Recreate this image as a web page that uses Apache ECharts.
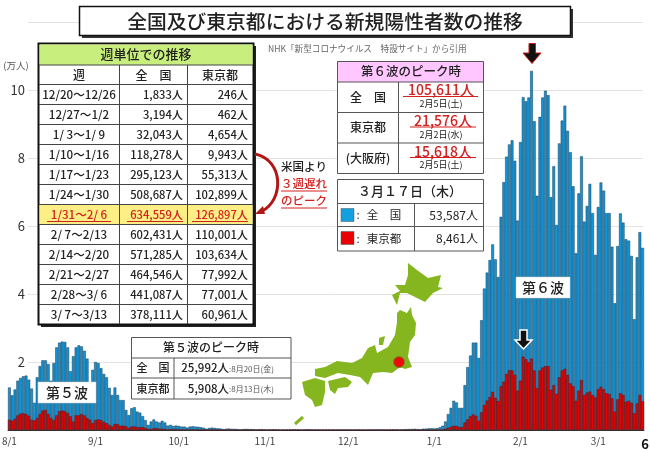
<!DOCTYPE html>
<html>
<head>
<meta charset="utf-8">
<script src="https://cdn.jsdelivr.net/npm/echarts@6/dist/echarts.min.js"></script>
<style>
    html, body { margin: 0; padding: 0; background: #fff; }
    #main, #overlay { position: absolute; left: 0; top: 0; width: 650px; height: 450px; }
    #overlay { pointer-events: none; }
</style>
</head>
<body>
<div id="main"></div>
<div id="overlay"></div>
<script>
// 日別データ（8/1〜3/17、グラフから読み取り）
var months = [[8, 31], [9, 30], [10, 31], [11, 30], [12, 31], [1, 31], [2, 28], [3, 17]];

var nationalCases = [
    // 8月
    12500, 10200, 11900, 14500, 15300, 15800, 16000, 14800, 12200, 8000, 15500, 18800, 20500, 20500, 19400, 14500,
    19700, 24300, 25700, 26000, 25900, 24300, 17300, 21700, 24300, 24900, 24600, 23300, 21000, 12400, 17700,
    // 9月
    20000, 19700, 18200, 16500, 15500, 12400, 10300, 12500, 10300, 8800, 8800, 5900, 4400, 6400, 6700,
    5400, 5100, 4100, 2900, 1500, 2500, 3100, 2500, 2200, 2700, 2200, 1300, 1500, 1200, 1300,
    // 10月
    1200, 1000, 1000, 700, 1000, 1100, 1000, 950, 800, 650, 380, 600, 700, 600, 500, 430,
    250, 370, 430, 350, 330, 270, 130, 240, 320, 290, 260, 250, 130, 230, 260,
    // 11月
    160, 90, 170, 200, 180, 150, 90, 60, 150, 160, 200, 190, 170, 90, 110,
    180, 210, 140, 170, 110, 60, 110, 130, 150, 130, 110, 50, 80, 130, 120,
    // 12月
    120, 90, 100, 110, 130, 100, 60, 100, 120, 140, 130, 150, 160, 90, 90, 170,
    180, 190, 160, 130, 190, 260, 280, 300, 330, 250, 200, 380, 400, 490, 500,
    // 1月
    460, 540, 780, 1260, 2500, 4700, 6500, 8600, 8100, 6500, 6500, 13200, 18500, 21900, 25700, 25700,
    21200, 32300, 41600, 46300, 50000, 54600, 50200, 45000, 62700, 72900, 80400, 84000, 85200, 79200, 61600,
    // 2月
    84700, 97900, 96700, 97800, 105611, 90800, 68900, 92100, 97800, 99800, 98500, 68500, 77600, 60300,
    84300, 91000, 95400, 88000, 81700, 71700, 52000, 69600, 80500, 61300, 65900, 72400, 63800, 51500,
    // 3月
    65600, 72800, 70400, 63800, 63800, 53900, 37300, 54100, 63700, 61000, 56100, 55700, 51200, 32600, 50800, 58200, 53587
];

var tokyoCases = [
    // 8月
    3000, 2700, 3300, 4300, 4800, 4900, 4700, 4200, 3000, 2800, 3500, 4700, 5700, 5908, 4700, 3500,
    2900, 4300, 5500, 5700, 5500, 5000, 4000, 2500, 4300, 4300, 4700, 4300, 3500, 3000, 2000,
    // 9月
    2900, 3100, 2900, 2400, 2000, 1500, 1000, 1800, 1700, 1250, 1270, 1070, 600, 1000, 1050,
    830, 780, 860, 630, 300, 250, 530, 530, 380, 380, 300, 150, 250, 250, 200,
    // 10月
    150, 100, 100, 90, 150, 140, 130, 110, 80, 60, 50, 70, 70, 60, 50, 40,
    30, 40, 40, 40, 35, 30, 20, 30, 40, 30, 30, 25, 20, 20, 20,
    // 11月
    20, 10, 25, 30, 25, 20, 10, 10, 20, 20, 30, 25, 20, 10, 10,
    25, 30, 20, 25, 15, 10, 15, 20, 20, 15, 15, 8, 10, 15, 15,
    // 12月
    15, 10, 10, 15, 20, 15, 8, 15, 15, 20, 20, 20, 25, 10, 10, 20,
    25, 25, 20, 15, 25, 35, 40, 45, 50, 36, 20, 60, 60, 70, 75,
    // 1月
    80, 100, 85, 150, 390, 640, 920, 1220, 1220, 860, 870, 2200, 3120, 4050, 4560, 4170,
    2720, 5190, 7380, 8640, 9700, 11230, 9470, 8500, 12900, 14200, 16500, 17600, 17500, 16200, 11600,
    // 2月
    14500, 21576, 20800, 19900, 21000, 17500, 12300, 17500, 18400, 18800, 18800, 11800, 13200, 10600,
    15500, 17500, 18000, 16200, 13700, 12900, 8600, 11600, 14700, 10300, 11000, 11300, 10300, 9600,
    // 3月
    12000, 12700, 12000, 10800, 10600, 9300, 5400, 9000, 10800, 10300, 8300, 8600, 8000, 4900, 7800, 10300, 8461
];

// 週単位の表
var weekLabels = ['12/20～12/26', '12/27～1/2', '1/ 3～1/ 9', '1/10～1/16', '1/17～1/23', '1/24～1/30',
    '1/31～2/ 6', '2/ 7～2/13', '2/14～2/20', '2/21～2/27', '2/28～3/ 6', '3/ 7～3/13'];
var weekNational = ['1,833人', '3,194人', '32,043人', '118,278人', '295,123人', '508,687人',
    '634,559人', '602,431人', '571,285人', '464,546人', '441,087人', '378,111人'];
var weekTokyo = ['246人', '462人', '4,654人', '9,943人', '55,313人', '102,899人',
    '126,897人', '110,001人', '103,634人', '77,992人', '77,001人', '60,961人'];
var peakWeekIndex = 6;

var yTicks = 20000;

// 日付ラベル
var categories = [];
months.forEach(function (m) {
    for (var d = 1; d <= m[1]; d++) {
        categories.push(m[0] + '/' + d);
    }
});

var FONT = '"Noto Sans CJK JP", "Noto Sans", sans-serif';
var elements = [];
var order = 100;

function addRect(x, y, w, h, fill, stroke, lineWidth) {
    elements.push({
        type: 'rect', z: order++, silent: true,
        shape: { x: x, y: y, width: w, height: h },
        style: { fill: fill || 'none', stroke: stroke || 'none', lineWidth: lineWidth || 0 }
    });
}

function addLine(x1, y1, x2, y2, color, lineWidth) {
    elements.push({
        type: 'line', z: order++, silent: true,
        shape: { x1: x1, y1: y1, x2: x2, y2: y2 },
        style: { stroke: color || '#444', lineWidth: lineWidth || 1 }
    });
}

function addText(str, x, y, size, color, align, weight) {
    elements.push({
        type: 'text', z: order++, silent: true,
        style: {
            text: str, x: x, y: y, fontSize: size, fontFamily: FONT, fontWeight: weight || 'normal',
            fill: color || '#222', align: align || 'center', verticalAlign: 'middle'
        }
    });
}

function addPoly(points, fill, stroke, lineWidth) {
    elements.push({
        type: 'polygon', z: order++, silent: true,
        shape: { points: points },
        style: { fill: fill, stroke: stroke || 'none', lineWidth: lineWidth || 0 }
    });
}

// タイトル
addRect(82, 9, 491, 29, '#333');
addRect(79.5, 6.5, 491, 29, '#fff', '#111', 1.5);
addText('全国及び東京都における新規陽性者数の推移', 325, 21, 19.8, '#222', 'center', 500);
addText('NHK「新型コロナウイルス　特設サイト」から引用', 268, 49, 8.6, '#666', 'left');
addText('(万人)', 16, 65, 9.5, '#555');

// 週単位の表
addRect(41, 46, 215, 281, '#222');
addRect(38.5, 43.5, 215, 281, '#fff', '#111', 2);
addRect(39.5, 44.5, 213, 20.5, '#c8ef7e');
addRect(39.5, 204, 213, 20, '#fdef85');
addText('週単位での推移', 146, 54.5, 13, '#222', 'center', 500);
addText('週', 79, 75, 12, '#222', 'center', 500);
addText('全　国', 153.5, 75, 12, '#222', 'center', 500);
addText('東京都', 220, 75, 12, '#222', 'center', 500);
addLine(39, 65, 253, 65, '#444');
for (var r = 0; r < 12; r++) {
    var rowY = 84.5 + r * 20;
    addLine(39, rowY, 253, rowY, '#444');
    var isPeak = r === peakWeekIndex;
    var rowColor = isPeak ? '#d32020' : '#222';
    var cy = rowY + 10;
    addText(weekLabels[r], 79, cy, 11.6, rowColor, 'center', 500);
    addText(weekNational[r], 183, cy, 11.2, rowColor, 'right', 500);
    addText(weekTokyo[r], 248, cy, 11.2, rowColor, 'right', 500);
    if (isPeak) {
        addLine(47, cy + 7, 111, cy + 7, '#d32020');
        addLine(127, cy + 7, 183, cy + 7, '#d32020');
        addLine(192, cy + 7, 248, cy + 7, '#d32020');
    }
}
addLine(119.5, 65, 119.5, 324, '#444');
addLine(187.5, 65, 187.5, 324, '#444');

// 米国より
elements.push({
    type: 'bezierCurve', z: order++, silent: true,
    shape: { x1: 255, y1: 154, cpx1: 284, cpy1: 160, cpx2: 284, cpy2: 200, x2: 262, y2: 211 },
    style: { stroke: '#b01818', lineWidth: 3, fill: 'none' }
});
addPoly([[255, 214], [263, 206], [265, 214]], '#b01818');
addText('米国より', 281, 167, 11.5, '#222', 'left', 500);
addText('３週遅れ', 281, 184, 11.5, '#d32020', 'left', 500);
addLine(281, 191, 327, 191, '#d32020');
addText('のピーク', 281, 201, 11.5, '#d32020', 'left', 500);
addLine(281, 208, 327, 208, '#d32020');

// 第6波のピーク
addRect(337.5, 61.5, 146, 112, '#fff', '#555', 1);
addRect(338, 62, 145, 20, '#ffc6ff');
addText('第６波のピーク時', 411, 71.5, 12.5, '#222', 'center', 500);
addLine(337, 82, 484, 82, '#555');
addLine(337, 112.5, 484, 112.5, '#555');
addLine(337, 143, 484, 143, '#555');
addLine(398.5, 82, 398.5, 174, '#555');
addText('全　国', 368, 97.5, 12, '#222', 'center', 500);
addText('東京都', 368, 127.5, 12, '#222', 'center', 500);
addText('(大阪府)', 368, 158.5, 12, '#222', 'center', 500);
addText('105,611人', 441, 90, 14, '#d32020', 'center', 500);
addLine(403, 96.5, 478, 96.5, '#d32020');
addText('2月5日(土)', 441, 104, 9, '#222');
addText('21,576人', 443, 120.5, 14, '#d32020', 'center', 500);
addLine(410, 127, 476, 127, '#d32020');
addText('2月2日(水)', 441, 134.5, 9, '#222');
addText('15,618人', 443, 151.5, 14, '#d32020', 'center', 500);
addLine(410, 157.5, 476, 157.5, '#d32020');
addText('2月5日(土)', 441, 165, 9, '#222');

// 3月17日
addRect(337.5, 179.5, 146, 71.5, '#fff', '#555', 1);
addLine(337, 203.5, 484, 203.5, '#555');
addLine(337, 226.5, 484, 226.5, '#555');
addLine(414.5, 203.5, 414.5, 251, '#555');
addText('３月１７日（木）', 410, 191.5, 13, '#222', 'center', 500);
addRect(341, 208.5, 13, 13, '#12a0e0', '#555', 0.5);
addRect(341, 231.5, 13, 13, '#e80000', '#555', 0.5);
addText(':', 358, 215, 11.5);
addText('全　国', 384, 215, 11.5);
addText(':', 358, 238.5, 11.5);
addText('東京都', 384, 238.5, 11.5);
addText('53,587人', 478, 215, 12, '#222', 'right');
addText('8,461人', 478, 238.5, 12, '#222', 'right');

// 地図
var LAND = '#86b61f';
addPoly([[408, 263], [417, 270], [428, 278], [441, 275], [438, 287], [443, 288], [433, 293], [425, 302], [415, 297],
    [407, 293], [400, 293], [397, 305], [392, 295], [400, 291], [395, 285], [405, 285], [408, 275]], LAND);
addPoly([[397, 313], [400, 310], [407, 313], [411, 307], [412, 315], [416, 323], [415, 335], [410, 342], [408, 357],
    [412, 367], [405, 369], [400, 367], [392, 373], [383, 372], [373, 373], [368, 385], [360, 377], [350, 375],
    [338, 373], [325, 378], [315, 376], [315, 369], [325, 367], [337, 361], [352, 363], [362, 358], [368, 348],
    [375, 345], [377, 353], [388, 347], [395, 335], [397, 322]], LAND);
addPoly([[328, 381], [345, 377], [352, 382], [348, 387], [338, 388], [335, 394], [330, 390]], LAND);
addPoly([[302, 382], [315, 378], [325, 381], [325, 392], [322, 405], [315, 407], [312, 400], [305, 395]], LAND);
addPoly([[379, 338], [385, 336], [383, 345], [379, 345]], LAND);
addLine(295, 424, 303, 417, LAND, 3);
elements.push({
    type: 'circle', z: order++, silent: true,
    shape: { cx: 399, cy: 362, r: 5.5 },
    style: { fill: '#ee0a0a', stroke: '#6d8c1a', lineWidth: 1 }
});

// 第5波
addRect(131.5, 337.5, 159.5, 61.5, '#fff', '#555', 1);
addLine(131, 358, 291, 358, '#555');
addLine(131, 378, 291, 378, '#555');
addLine(174, 358, 174, 399, '#555');
addText('第５波のピーク時', 211, 347.5, 12, '#222', 'center', 500);
addText('全　国', 153, 368, 11, '#222', 'center', 500);
addText('東京都', 153, 388.5, 11, '#222', 'center', 500);
addText('25,992人', 229, 368, 11.5, '#222', 'right', 500);
addText(':8月20日(金)', 229, 368.5, 8, '#555', 'left');
addText('5,908人', 229, 388.5, 11.5, '#222', 'right', 500);
addText(':8月13日(木)', 229, 389, 8, '#555', 'left');

// ラベル
addRect(38, 382, 58, 21, '#fff', '#ccc', 0.5);
addText('第５波', 67, 392.5, 14, '#222', 'center', 500);
addRect(516, 277, 54, 21, '#fff', '#ccc', 0.5);
addText('第６波', 543, 287.5, 14, '#222', 'center', 500);

// 矢印
addPoly([[529, 43.5], [535.5, 43.5], [535.5, 53], [541, 53], [532, 63.5], [523, 53], [529, 53]], '#111', '#c81818', 1);
addPoly([[520, 330], [527, 330], [527, 340], [532, 340], [523.5, 349], [515, 340], [520, 340]], '#111', '#fff', 1.5);

// ページ番号
addText('6', 645, 444, 13, '#111', 'center', 'bold');

// 全国と東京都は同じ位置に重ねるので、東京都は別の grid に置く
var option = {
    animation: false,
    grid: [
        { left: 8, right: 6, top: 22, bottom: 20, outerBoundsMode: 'none' },
        { left: 28, right: 7, top: 22, bottom: 20, outerBoundsMode: 'none' },
        { left: 8, right: 6, top: 22, bottom: 20, outerBoundsMode: 'none' }
    ],
    xAxis: [
        {
            type: 'category',
            gridIndex: 0,
            data: categories,
            axisTick: { show: false },
            axisLine: { lineStyle: { color: '#333', width: 1 } },
            axisLabel: {
                interval: function (index, value) { return /\/1$/.test(value); },
                fontSize: 10, color: '#444', margin: 6, fontFamily: FONT, hideOverlap: false
            }
        },
        { type: 'category', gridIndex: 1, data: [], show: false },
        { type: 'category', gridIndex: 2, data: categories, show: false }
    ],
    yAxis: [
        { type: 'value', gridIndex: 0, min: 0, max: 120000, interval: yTicks, show: false, splitLine: { show: false } },
        {
            type: 'value', gridIndex: 1, min: 0, max: 120000, interval: yTicks,
            axisLine: { show: false },
            axisTick: { show: false },
            splitLine: { lineStyle: { color: '#e3e3e3', width: 1 } },
            axisLabel: {
                margin: 3, fontSize: 13, color: '#333', fontFamily: FONT, padding: [0, 0, 4, 0],
                formatter: function (v) { return v === 0 || v > 100000 ? '' : String(v / 10000); }
            }
        },
        { type: 'value', gridIndex: 2, min: 0, max: 120000, interval: yTicks, show: false, splitLine: { show: false } }
    ],
    series: [
        {
            name: '全国', type: 'bar', xAxisIndex: 0, yAxisIndex: 0, data: nationalCases,
            barWidth: '100%',
            itemStyle: { color: '#1492d2', borderColor: '#14405f', borderWidth: 0.5 }
        },
        {
            name: '東京都', type: 'bar', xAxisIndex: 2, yAxisIndex: 2, data: tokyoCases,
            barWidth: '100%',
            itemStyle: { color: '#e00606', borderColor: '#5a1010', borderWidth: 0.5 }
        }
    ]
};

var myChart = echarts.init(document.getElementById('main'));
myChart.setOption(option);

// 表や注記は上に重ねる
var overlayChart = echarts.init(document.getElementById('overlay'));
overlayChart.setOption({ animation: false, graphic: { elements: elements } });
</script>
</body>
</html>
